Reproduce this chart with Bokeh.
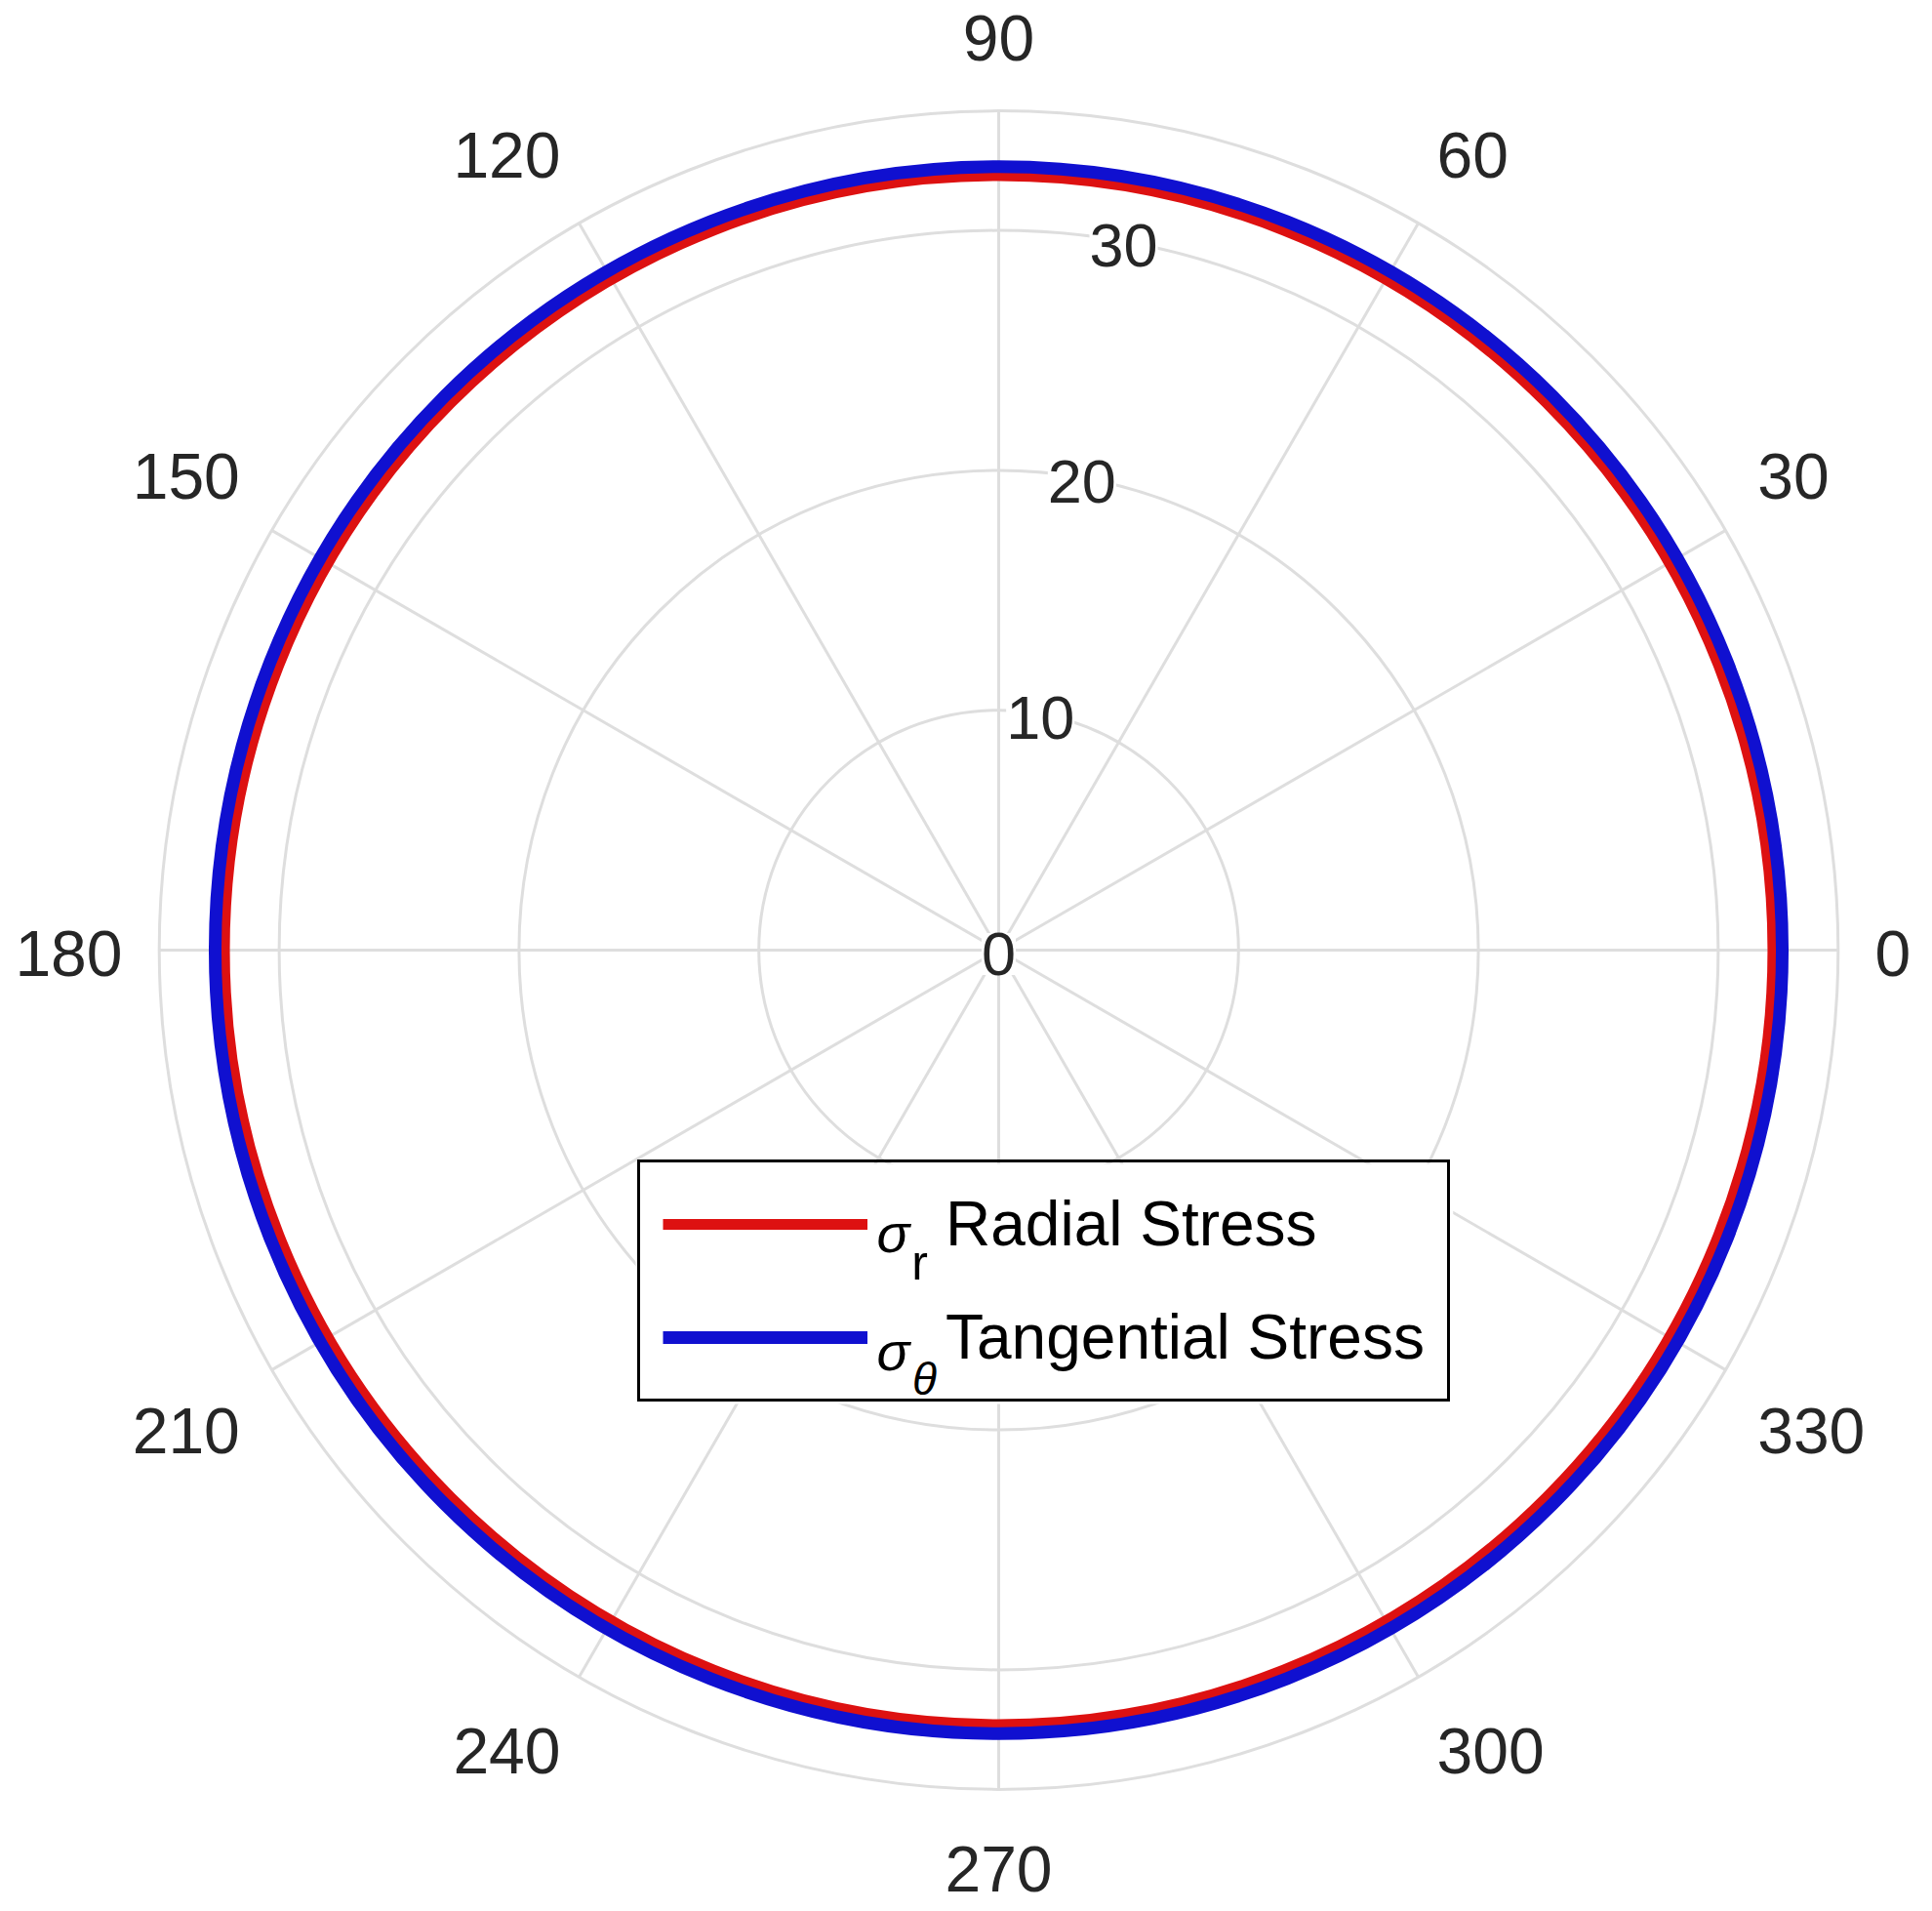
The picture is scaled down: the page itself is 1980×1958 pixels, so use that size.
import math
from bokeh.plotting import figure
from bokeh.models import ColumnDataSource, Legend, LegendItem, Label, Range1d
from bokeh.core.properties import value
from bokeh.embed import file_html
from bokeh.resources import INLINE

# ---------------- data ----------------
theta_ticks = [0, 30, 60, 90, 120, 150, 180, 210, 240, 270, 300, 330]
theta_tick_labels = ["0", "30", "60", "90", "120", "150", "180", "210", "240", "270", "300", "330"]
r_ticks = [0, 10, 20, 30]
r_tick_labels = ["0", "10", "20", "30"]
r_max = 35
r_label_angle = 80

# uniform stresses around the circle
radial_stress = 32.28      # sigma_r
tangential_stress = 32.67  # sigma_theta

# ---------------- layout ----------------
W, H = 1976, 1956
CX_REF, CY_REF = 1023, 973      # centre of polar plot in page pixels
S = 24.58                       # pixels per data unit
cx, cy = CX_REF, CY_REF

def px2d(xr, yr):
    return (xr - CX_REF) / S, (CY_REF - yr) / S

def sgn(v, eps=1e-9):
    return 0 if abs(v) < eps else (1 if v > 0 else -1)

GRID = "#dedede"
TXT = "#262626"
FONT = "Liberation Sans"

p = figure(width=W, height=H, output_backend="svg", toolbar_location=None,
           x_axis_type=None, y_axis_type=None, min_border=0,
           x_range=Range1d(-cx / S, (W - cx) / S),
           y_range=Range1d(-(H - cy) / S, cy / S))
p.outline_line_color = None
p.background_fill_color = "white"
p.border_fill_color = "white"

# spokes
th = [math.radians(t) for t in theta_ticks]
p.segment(x0=[0] * len(th), y0=[0] * len(th),
          x1=[r_max * math.cos(a) for a in th], y1=[r_max * math.sin(a) for a in th],
          line_color=GRID, line_width=3)
# rings
rings = [r for r in r_ticks if r > 0] + [r_max]
p.circle(x=[0] * len(rings), y=[0] * len(rings), radius=rings,
         fill_color=None, line_color=GRID, line_width=3)

# data curves
rr = p.arc(x=0, y=0, radius=radial_stress, start_angle=0, end_angle=2 * math.pi,
           line_color="#dd1111", line_width=11)
rt = p.arc(x=0, y=0, radius=tangential_stress, start_angle=0, end_angle=2 * math.pi,
           line_color="#1010d0", line_width=13)

# angle tick labels: anchored just outside the outer ring, aligned away from centre
D = 898 / S
fs_theta = 66
xs, ys, xo, yo = [], [], [], []
for a, lab in zip(th, theta_tick_labels):
    w = len(lab) * 0.556 * fs_theta
    xs.append(D * math.cos(a))
    ys.append(D * math.sin(a))
    xo.append(sgn(math.cos(a)) * w / 2)
    yo.append(-sgn(math.sin(a)) * 40 + 3)
src = ColumnDataSource(dict(x=xs, y=ys, text=theta_tick_labels, xo=xo, yo=yo))
p.text(x="x", y="y", text="text", x_offset="xo", y_offset="yo", source=src,
       text_align="center", text_baseline="middle", text_color=TXT,
       text_font=value(FONT), text_font_size=value(f"{fs_theta}px"))

# radial tick labels (white background)
ra = math.radians(r_label_angle)
for r, lab in zip(r_ticks, r_tick_labels):
    p.add_layout(Label(x=r * math.cos(ra), y=r * math.sin(ra), text=lab,
                       x_offset=0, y_offset=-4,
                       text_align="center", text_baseline="middle", text_color=TXT,
                       text_font=FONT, text_font_size="63px",
                       background_fill_color="white", background_fill_alpha=1.0))

# legend geometry (page pixels)
LG_L, LG_B = 653, 1436
PAD, GW, GH, STAND, SPACE = 23, 210, 80, 80, 36
LG_FS = 64
LG_W = 2 * PAD + GW + STAND + 7.777 * LG_FS
LG_H = 2 * PAD + 2 * GH + SPACE

# white backing under the (transparent) legend box
x0, y0 = px2d(LG_L - 2, LG_B + 2)
x1, y1 = px2d(LG_L + LG_W + 2, LG_B - LG_H - 2)
p.quad(left=x0, right=x1, bottom=y0, top=y1, fill_color="white", line_color=None)

# sigma symbols with subscripts inside the legend
sym = dict(text=["σ", "r", "σ", "θ"],
           xr=[915, 942, 915, 947], yr=[1263, 1293, 1384, 1412],
           size=["56px", "50px", "56px", "46px"],
           style=["italic", "normal", "italic", "italic"])
sx, sy = zip(*[px2d(a, b) for a, b in zip(sym["xr"], sym["yr"])])
sym_src = ColumnDataSource(dict(x=list(sx), y=list(sy), text=sym["text"],
                                size=sym["size"], style=sym["style"]))
p.text(x="x", y="y", text="text", text_font_size="size", text_font_style="style",
       source=sym_src, text_align="center", text_baseline="alphabetic",
       text_font=value(FONT), text_color="black")

legend = Legend(items=[LegendItem(label="Radial Stress", renderers=[rr]),
                       LegendItem(label="Tangential Stress", renderers=[rt])],
                location=(LG_L, H - LG_B), orientation="vertical",
                glyph_width=GW, glyph_height=GH, label_height=GH,
                label_standoff=STAND, padding=PAD, spacing=SPACE, margin=0,
                label_text_font=FONT, label_text_font_size=f"{LG_FS}px", label_text_color="black",
                border_line_color="black", border_line_width=3, border_line_alpha=1.0,
                background_fill_alpha=0.0)
p.add_layout(legend)

open("out.html", "w").write(file_html(p, INLINE))
